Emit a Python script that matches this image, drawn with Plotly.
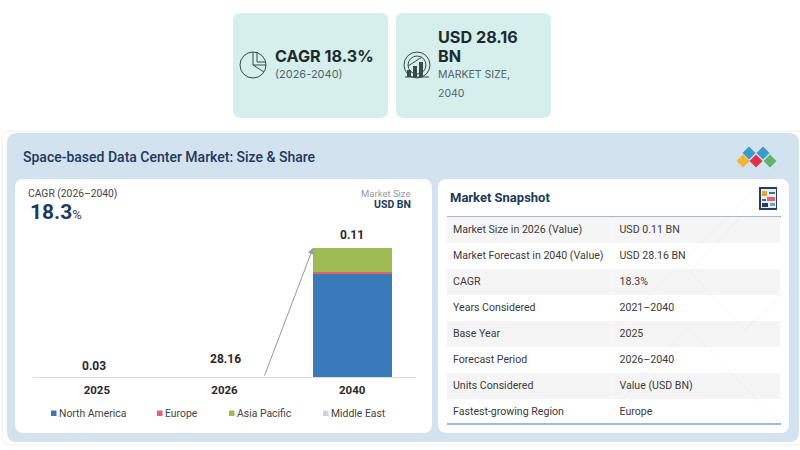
import plotly.graph_objects as go

W, H = 800, 450

years = ["2025", "2026", "2040"]
north_america = [0.02, 0.08, 22.4]
europe = [0.0, 0.01, 0.6]
asia_pacific = [0.01, 0.02, 5.15]
middle_east = [0.0, 0.0, 0.01]
total_labels = ["0.03", "28.16", "0.11"]

series_names = ["North America", "Europe", "Asia Pacific", "Middle East"]
series_colors = ["rgba(55,120,184,0.99)", "rgba(224,96,110,0.99)", "rgba(157,187,80,0.99)", "rgba(210,210,210,0.99)"]

# nbsp keeps the long label on one line, the table wraps at plain spaces
snapshot_labels = ["Market Size in 2026 (Value)", "Market\u00a0Forecast\u00a0in\u00a02040\u00a0(Value)", "CAGR",
                   "Years Considered", "Base Year", "Forecast Period", "Units Considered",
                   "Fastest-growing Region"]
snapshot_values = ["USD 0.11 BN", "USD 28.16 BN", "18.3%", "2021–2040", "2025", "2026–2040",
                   "Value (USD BN)", "Europe"]

NAVY = "#1d3a5c"


def px(x):
    return x / W


def py(y):
    return 1 - y / H


def round_box(x0, y0, x1, y1, r, fill, line="rgba(0,0,0,0)"):
    p = (f"M{px(x0 + r)},{py(y0)} L{px(x1 - r)},{py(y0)} Q{px(x1)},{py(y0)} {px(x1)},{py(y0 + r)} "
         f"L{px(x1)},{py(y1 - r)} Q{px(x1)},{py(y1)} {px(x1 - r)},{py(y1)} "
         f"L{px(x0 + r)},{py(y1)} Q{px(x0)},{py(y1)} {px(x0)},{py(y1 - r)} "
         f"L{px(x0)},{py(y0 + r)} Q{px(x0)},{py(y0)} {px(x0 + r)},{py(y0)} Z")
    return dict(type="path", path=p, xref="paper", yref="paper", fillcolor=fill,
                line=dict(color=line, width=1), layer="below")


def box(x0, y0, x1, y1, fill, layer="below"):
    return dict(type="rect", xref="paper", yref="paper", x0=px(x0), x1=px(x1), y0=py(y0), y1=py(y1),
                fillcolor=fill, line=dict(width=0), layer=layer)


def seg(x0, y0, x1, y1, color, width=1, layer="below"):
    return dict(type="line", xref="paper", yref="paper", x0=px(x0), x1=px(x1), y0=py(y0), y1=py(y1),
                line=dict(color=color, width=width), layer=layer)


def ring(cx, cy, r, color, width=1, fill="rgba(0,0,0,0)"):
    return dict(type="circle", xref="paper", yref="paper", x0=px(cx - r), x1=px(cx + r),
                y0=py(cy - r), y1=py(cy + r), line=dict(color=color, width=width), fillcolor=fill,
                layer="above")


def diamond(cx, cy, r, fill):
    p = (f"M{px(cx - r)},{py(cy)} L{px(cx)},{py(cy - r)} L{px(cx + r)},{py(cy)} "
         f"L{px(cx)},{py(cy + r)} Z")
    return dict(type="path", path=p, xref="paper", yref="paper", fillcolor=fill, line=dict(width=0),
                layer="above")


def label(x, y, text, size, color="#333333", anchor="left", family="Roboto", weight=None):
    # annotations carry a small inner pad, take it off so x is where the glyphs start
    nudge = {"left": -2, "right": 2, "center": 0}[anchor]
    return dict(x=px(x + nudge), y=py(y), xref="paper", yref="paper", text=text, showarrow=False,
                xanchor=anchor, yanchor="middle",
                font=dict(size=size, color=color, family=family, weight=weight))


shapes = [
    round_box(233, 13, 388, 118, 8, "#d5f0ec"),
    round_box(396, 13, 551, 118, 8, "#d5f0ec"),
    round_box(2, 131, 803, 445, 8, "#ffffff", "#eeeeee"),
    round_box(7, 133, 799, 442, 10, "#d3e2ef"),
    round_box(15, 179, 432, 433, 9, "#ffffff"),
    round_box(438, 179, 789, 433, 9, "#ffffff"),
    seg(447, 217, 781, 217, "#3d78a8", 1.2),
    seg(447, 424, 781, 424, "#3d78a8", 1.2),
]

# pie icon
shapes += [
    ring(253, 65, 13, "#3a4a4a"),
    seg(253, 52, 253, 65, "#3a4a4a"),
    seg(253, 65, 266, 65, "#3a4a4a"),
    seg(253, 65, 264, 72, "#3a4a4a"),
    seg(257, 52, 257, 62, "#3a4a4a"),
    seg(257, 62, 266, 62, "#3a4a4a"),
]
# market size icon
shapes += [
    ring(417, 65, 13, "#3a4a4a"),
    ring(417, 65, 9, "#3a4a4a"),
    box(407, 70, 411, 77, "#3a4a4a", "above"),
    box(413, 66, 417, 77, "#3a4a4a", "above"),
    box(419, 62, 423, 77, "#3a4a4a", "above"),
    seg(405, 77, 429, 77, "#3a4a4a"),
    seg(408, 66, 422, 57, "#3a4a4a"),
]
# logo
for cx, cy, col in [(743, 161, "#f2b632"), (749, 153, "#3a9cc4"), (763, 153, "#3a9cc4"),
                    (756, 161, "#e0304e"), (770, 161, "#5fb56d")]:
    shapes.append(diamond(cx, cy, 6.5, col))
# snapshot icon
shapes += [
    box(759, 187, 777, 210, "#23405f", "above"),
    box(761, 189, 776, 208, "#e9eef2", "above"),
    box(762, 191, 767, 196, "#e8a33c", "above"),
    box(769, 192, 775, 194, "#4a6a8a", "above"),
    box(767, 197, 775, 201, "#e0606e", "above"),
    box(762, 199, 766, 201, "#4a6a8a", "above"),
    box(762, 203, 768, 207, "#23405f", "above"),
    box(770, 203, 775, 206, "#7aa0c0", "above"),
]
# faint background pattern behind the snapshot table
for x0, y0, x1, y1 in [(687, 328, 600, 424), (687, 328, 781, 424), (785, 160, 620, 325),
                       (745, 212, 690, 272), (690, 272, 745, 330), (745, 330, 785, 290)]:
    shapes.append(seg(x0, y0, x1, y1, "rgba(0,0,0,0.035)", 1, "above"))

annotations = [
    label(275, 56, "<b>CAGR 18.3%</b>", 16.2, "#1e2a2e", family="Inter"),
    label(275, 74, "(2026-2040)", 11, "#55606a", family="Inter"),
    label(438, 37, "<b>USD 28.16</b>", 16.2, "#1e2a2e", family="Inter"),
    label(438, 56, "<b>BN</b>", 16.2, "#1e2a2e", family="Inter"),
    label(438, 75, "MARKET SIZE,", 10.5, "#55606a", family="Inter"),
    label(438, 93, "2040", 10.5, "#55606a", family="Inter"),
    label(23, 157, "Space-based Data Center Market: Size &amp; Share", 14, NAVY, weight=500),
    label(28, 193, "CAGR (2026–2040)", 10.3, "#444444"),
    label(30, 212, f'<b>18.3</b><span style="font-size:13px;color:#444444">%</span>', 21, NAVY),
    label(411, 193, "Market Size", 9.5, "#999999", "right"),
    label(411, 204, "<b>USD BN</b>", 10.5, NAVY, "right"),
    label(450, 197, "<b>Market Snapshot</b>", 13, NAVY),
]

for lx, ly, t in zip([94, 225, 352], [366, 359, 235], total_labels):
    annotations.append(label(lx, ly, f"<b>{t}</b>", 12, "#2a2a2a", "center"))

for sx, name, col in zip([51, 157, 229, 323], series_names, series_colors):
    shapes.append(box(sx, 410.5, sx + 5.5, 416, col))
    annotations.append(label(sx + 8, 413, name, 10.4, "#444444"))

# growth arrow
annotations.append(dict(x=px(313), y=py(248), xref="paper", yref="paper", ax=-49, ay=129,
                        axref="pixel", ayref="pixel", text="", showarrow=True, arrowhead=2,
                        arrowsize=1.2, arrowwidth=1, arrowcolor="#999999"))

fig = go.Figure()

for name, vals, col in zip(series_names, [north_america, europe, asia_pacific, middle_east], series_colors):
    fig.add_trace(go.Bar(x=years, y=vals, name=name, marker=dict(color=col, line=dict(width=0)),
                         hoverinfo="skip", showlegend=False))

fig.add_trace(go.Table(
    domain=dict(x=[px(445), px(781)], y=[py(423), py(216)]),
    columnwidth=[167, 169],
    header=dict(values=["", ""], height=1, fill=dict(color="rgba(0,0,0,0)"), line=dict(width=0)),
    cells=dict(values=[snapshot_labels, snapshot_values], height=26, align="left",
               fill=dict(color=[["#f5f5f5", "#ffffff"] * 4]), line=dict(width=0),
               font=dict(size=10.6, color="#3a3a3a", family="Roboto")),
))
shapes.append(box(444.5, 217.6, 447, 424, "#ffffff", "above"))

fig.update_layout(
    width=W, height=H, margin=dict(l=0, r=0, t=0, b=0),
    paper_bgcolor="#ffffff", plot_bgcolor="rgba(0,0,0,0)",
    barmode="stack", bargap=0.38, showlegend=False,
    font=dict(family="Roboto"),
    xaxis=dict(domain=[px(33), px(416)], type="category", showgrid=False, ticks="",
               showline=True, linecolor="#dddddd", linewidth=1, zeroline=False,
               ticklabelstandoff=2,
               tickfont=dict(size=11.5, color="#2a2a2a", family="Roboto"),
               ticktext=[f"<b>{y}</b>" for y in years], tickvals=years),
    yaxis=dict(domain=[py(377), py(248)], range=[0, 28.16], visible=False),
    shapes=shapes, annotations=annotations,
)

# browser default body margin would push the 800x450 figure off the window
fig.write_html("out.html", config=dict(displayModeBar=False),
               post_script="document.body.style.margin='0';")
